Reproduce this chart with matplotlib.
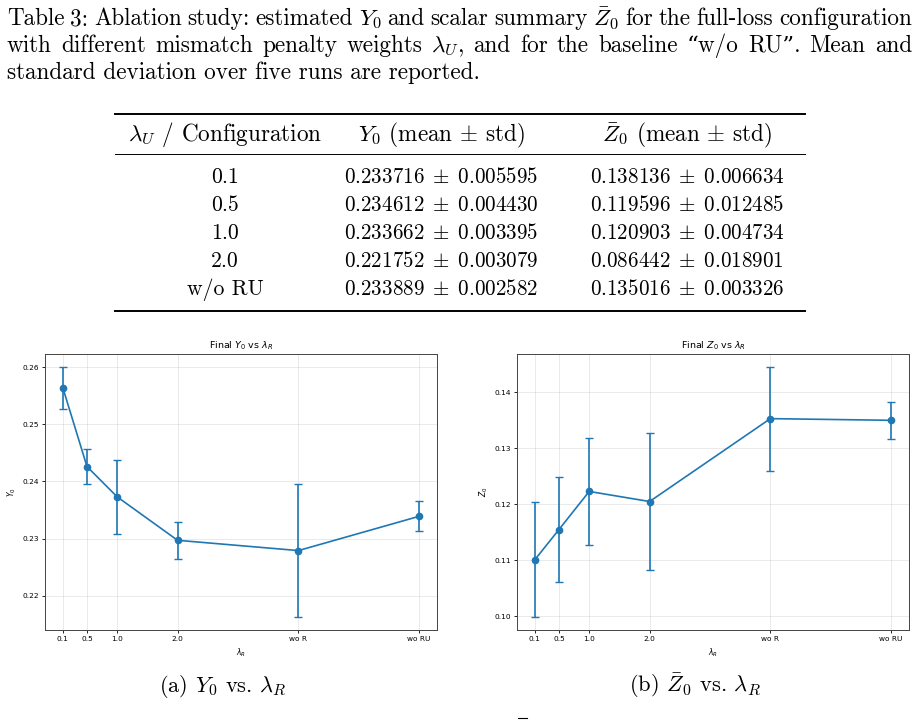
import matplotlib
matplotlib.use("Agg")
import matplotlib.pyplot as plt
from matplotlib.lines import Line2D

W, H = 920, 721

# values
lambda_pos = [0.1, 0.5, 1.0, 2.0, 4.0, 6.0]
lambda_labels = ["0.1", "0.5", "1.0", "2.0", "wo R", "wo RU"]
y0_mean = [0.2564, 0.2426, 0.2373, 0.2297, 0.2279, 0.2339]
y0_std = [0.0037, 0.0031, 0.0065, 0.0032, 0.0117, 0.0026]
z0_mean = [0.1101, 0.1155, 0.1223, 0.1205, 0.1353, 0.1350]
z0_std = [0.0103, 0.0093, 0.0096, 0.0122, 0.0093, 0.0033]

# table 3
tab_config = ["0.1", "0.5", "1.0", "2.0", "w/o RU"]
tab_y0_mean = [0.233716, 0.234612, 0.233662, 0.221752, 0.233889]
tab_y0_std = [0.005595, 0.004430, 0.003395, 0.003079, 0.002582]
tab_z0_mean = [0.138136, 0.119596, 0.120903, 0.086442, 0.135016]
tab_z0_std = [0.006634, 0.012485, 0.004734, 0.018901, 0.003326]

SERIF = ["cmr10", "DejaVu Serif"]
FS = 16.7

fig = plt.figure(figsize=(W / 100, H / 100), dpi=100)


def fx(x):
    return x / W


def fy(y):
    return 1 - y / H


def ftext(x, y, s, **kw):
    kw.setdefault("family", SERIF)
    kw.setdefault("fontsize", FS)
    kw.setdefault("math_fontfamily", "cm")
    kw.setdefault("va", "baseline")
    return fig.text(fx(x), fy(y), s, **kw)


def justified(words, x0, x1, y):
    r = fig.canvas.get_renderer()
    arts = [ftext(0, y, w) for w in words]
    widths = [a.get_window_extent(r).width for a in arts]
    gap = (x1 - x0 - sum(widths)) / (len(words) - 1)
    x = x0
    for a, w in zip(arts, widths):
        a.set_x(fx(x))
        x += w + gap


def rule(y, x0, x1, lw):
    fig.add_artist(Line2D([fx(x0), fx(x1)], [fy(y), fy(y)], lw=lw, color="black",
                          transform=fig.transFigure))


# caption
justified(r"Table 3: Ablation study: estimated $Y_0$ and scalar summary $\bar{Z}_0$ for the full-loss configuration".split(),
          7, 912, 25)
justified("with different mismatch penalty weights $\\lambda_U$, and for the baseline \u201cw/o RU\u201d. Mean and".split(),
          7, 912, 52)
ftext(7, 79, "standard deviation over five runs are reported.")

# table
rule(114, 115, 805, 1.4)
rule(154, 115, 805, 0.7)
rule(311, 115, 805, 1.4)
col_x = [225, 441, 687]
ftext(col_x[0], 141, r"$\lambda_U$ / Configuration", ha="center")
ftext(col_x[1], 141, r"$Y_0$ (mean $\pm$ std)", ha="center")
ftext(col_x[2], 141, r"$\bar{Z}_0$ (mean $\pm$ std)", ha="center")
for i, c in enumerate(tab_config):
    yb = 183 + 28 * i
    ftext(col_x[0], yb, c, ha="center", fontsize=15.6)
    ftext(col_x[1], yb, rf"${tab_y0_mean[i]:.6f}\;\pm\;{tab_y0_std[i]:.6f}$", ha="center", fontsize=15.2)
    ftext(col_x[2], yb, rf"${tab_z0_mean[i]:.6f}\;\pm\;{tab_z0_std[i]:.6f}$", ha="center", fontsize=15.2)

# panels
panels = [
    (45, y0_mean, y0_std, r"Final $Y_0$ vs $\lambda_R$", r"$Y_0$", [0.22, 0.23, 0.24, 0.25, 0.26]),
    (517, z0_mean, z0_std, r"Final $Z_0$ vs $\lambda_R$", r"$Z_0$", [0.10, 0.11, 0.12, 0.13, 0.14]),
]
for left, mean, std, title, ylab, yt in panels:
    ax = fig.add_axes([fx(left), fy(630), fx(392), (630 - 354) / H])
    ax.errorbar(lambda_pos, mean, yerr=std, fmt="-o", color="#1f77b4", lw=1.2,
                ms=4.5, capsize=3, elinewidth=1.2, capthick=1.0)
    ax.set_xticks(lambda_pos)
    ax.set_xticklabels(lambda_labels)
    ax.set_yticks(yt)
    ax.set_yticklabels([f"{v:.2f}" for v in yt])
    ax.grid(True, alpha=0.3, lw=0.6)
    ax.tick_params(labelsize=5.3, length=2.5, width=0.6, pad=2)
    ax.set_title(title, fontsize=6.8, pad=4)
    ax.set_xlabel(r"$\lambda_R$", fontsize=5.5, labelpad=3)
    ax.set_ylabel(ylab, fontsize=5.5, labelpad=3)
    for s in ax.spines.values():
        s.set_linewidth(0.7)
        s.set_color("#444444")

# sub-captions
ftext(223, 692, r"(a) $Y_0$ vs. $\lambda_R$", ha="center", fontsize=16.2)
ftext(695, 692, r"(b) $\bar{Z}_0$ vs. $\lambda_R$", ha="center", fontsize=16.2)
# bar of the next, cut-off caption line
rule(718, 518, 527, 0.8)

fig.savefig("out.png", dpi=100)
